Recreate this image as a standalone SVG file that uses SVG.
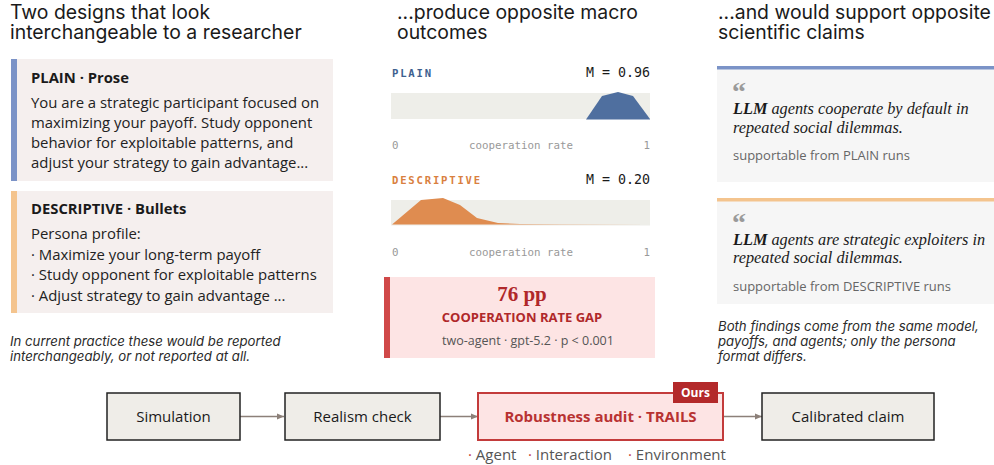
<svg xmlns="http://www.w3.org/2000/svg" width="994" height="465" viewBox="0 0 994 465">
<defs>
<marker id="arr" markerWidth="8" markerHeight="8" refX="7" refY="4" orient="auto" markerUnits="userSpaceOnUse">
<path d="M0,1 L7,4 L0,7 Z" fill="#8c8079"/>
</marker>
<style>
.title{font-family:Inter,"Liberation Sans",sans-serif;font-size:19.4px;fill:#1a1a1a}
.head{font-family:"Open Sans","Liberation Sans",sans-serif;font-size:14.8px;font-weight:700;fill:#1a1a1a}
.body{font-family:"Open Sans","Liberation Sans",sans-serif;font-size:14.9px;fill:#222}
.note{font-family:Inter,"Liberation Sans",sans-serif;font-size:13.2px;font-style:italic;fill:#2a2a2a}
.lbl{font-family:"DejaVu Sans Mono","Liberation Mono",monospace;font-size:10.6px;font-weight:700;letter-spacing:1.8px}
.mean{font-family:"DejaVu Sans Mono","Liberation Mono",monospace;font-size:13.3px;fill:#1a1a1a}
.axis{font-family:"DejaVu Sans Mono","Liberation Mono",monospace;font-size:10.8px;fill:#999}
.strip{fill:#eeeee9}
.claim{font-family:"Liberation Serif",serif;font-size:16.3px;font-style:italic;fill:#1a1a1a}
.quote{font-family:"Liberation Serif",serif;font-size:28px;font-weight:700;font-style:normal;fill:#9a9a9a}
.sup{font-family:"Open Sans","Liberation Sans",sans-serif;font-size:13px;fill:#666}
.node{fill:#efede8;stroke:#222;stroke-width:1.5}
.ntext{font-family:"Open Sans","Liberation Sans",sans-serif;font-size:15px;fill:#1a1a1a;text-anchor:middle}
.sub{font-family:"Open Sans","Liberation Sans",sans-serif;font-size:15px;fill:#555}
.dot{fill:#c33b3b}
.edge{stroke:#8c8079;stroke-width:1.5;fill:none;marker-end:url(#arr)}
</style>
</defs>

<!-- Column titles -->
<g id="titles">
<text class="title"><tspan x="10" y="19">Two designs that look</tspan><tspan x="10" y="39">interchangeable to a researcher</tspan></text>
<text class="title"><tspan x="397" y="19">...produce opposite macro</tspan><tspan x="397" y="39">outcomes</tspan></text>
<text class="title"><tspan x="718" y="19">...and would support opposite</tspan><tspan x="718" y="39">scientific claims</tspan></text>
</g>

<!-- Left column -->
<g id="plain-card">
<rect x="11" y="59" width="322" height="122" fill="#f5efee"/>
<rect x="11" y="59" width="6" height="122" fill="#7b93c7"/>
<text class="head" x="31" y="83">PLAIN · Prose</text>
<text class="body"><tspan x="31" y="108">You are a strategic participant focused on</tspan><tspan x="31" y="128">maximizing your payoff. Study opponent</tspan><tspan x="31" y="148">behavior for exploitable patterns, and</tspan><tspan x="31" y="168">adjust your strategy to gain advantage...</tspan></text>
</g>
<g id="descriptive-card">
<rect x="11" y="191" width="322" height="122" fill="#f5efee"/>
<rect x="11" y="191" width="6" height="122" fill="#f4c48e"/>
<text class="head" x="31" y="214">DESCRIPTIVE · Bullets</text>
<text class="body"><tspan x="31" y="239">Persona profile:</tspan><tspan x="31" y="260">· Maximize your long-term payoff</tspan><tspan x="31" y="280">· Study opponent for exploitable patterns</tspan><tspan x="31" y="301">· Adjust strategy to gain advantage ...</tspan></text>
</g>
<g id="left-note">
<text class="note"><tspan x="10" y="346">In current practice these would be reported</tspan><tspan x="10" y="361">interchangeably, or not reported at all.</tspan></text>
</g>

<!-- Middle column -->
<g id="plain-dist">
<text class="lbl" x="392" y="77" fill="#3e5f8f">PLAIN</text>
<text class="mean" x="650" y="77" text-anchor="end">M = 0.96</text>
<rect class="strip" x="391" y="93" width="259" height="26"/>
<path d="M586,119.5 L602,96 L618,92 L633,96 L650,119 L650,119.5 Z" fill="#4f6f9f"/>
<text class="axis" x="392" y="149">0</text>
<text class="axis" x="521" y="149" text-anchor="middle">cooperation rate</text>
<text class="axis" x="650" y="149" text-anchor="end">1</text>
</g>
<g id="descriptive-dist">
<text class="lbl" x="392" y="184" fill="#d9803f">DESCRIPTIVE</text>
<text class="mean" x="650" y="184" text-anchor="end">M = 0.20</text>
<rect class="strip" x="391" y="200" width="259" height="25.5"/>
<path d="M392,224.5 L421,200 L443,198 L460,205 L477,218 L498,223 L520,224 L560,224.3 L650,224.5 Z" fill="#df8c50"/>
<text class="axis" x="392" y="256">0</text>
<text class="axis" x="521" y="256" text-anchor="middle">cooperation rate</text>
<text class="axis" x="650" y="256" text-anchor="end">1</text>
</g>
<g id="gap-box">
<rect x="384" y="277" width="271" height="81" fill="#fde4e4"/>
<rect x="384" y="277" width="6" height="81" fill="#d04848"/>
<text x="522" y="301" text-anchor="middle" font-family="'Liberation Serif',serif" font-size="21" font-weight="700" fill="#b0282a">76 pp</text>
<text x="522" y="322" text-anchor="middle" font-family="'Open Sans','Liberation Sans',sans-serif" font-size="13" font-weight="700" fill="#b0282a">COOPERATION RATE GAP</text>
<text x="528" y="345" text-anchor="middle" font-family="'Open Sans','Liberation Sans',sans-serif" font-size="12.5" fill="#555">two-agent · gpt-5.2 · p &lt; 0.001</text>
</g>

<!-- Right column -->
<g id="claim-plain">
<rect x="717" y="66" width="277" height="116" fill="#f6f6f6"/>
<rect x="717" y="66" width="277" height="3.5" fill="#7b93c7"/>
<text class="claim"><tspan class="quote" x="732" y="101">“</tspan><tspan x="733" y="114" font-weight="700">LLM</tspan><tspan> agents cooperate by default in</tspan><tspan x="733" y="133">repeated social dilemmas.</tspan></text>
<text class="sup" x="733" y="160">supportable from PLAIN runs</text>
</g>
<g id="claim-descriptive">
<rect x="717" y="198" width="277" height="106" fill="#f6f6f6"/>
<rect x="717" y="198" width="277" height="3.5" fill="#f4c48e"/>
<text class="claim"><tspan class="quote" x="732" y="232">“</tspan><tspan x="733" y="245" font-weight="700">LLM</tspan><tspan> agents are strategic exploiters in</tspan><tspan x="733" y="263">repeated social dilemmas.</tspan></text>
<text class="sup" x="733" y="291">supportable from DESCRIPTIVE runs</text>
</g>
<g id="right-note">
<text class="note"><tspan x="718" y="331">Both findings come from the same model,</tspan><tspan x="718" y="346">payoffs, and agents; only the persona</tspan><tspan x="718" y="361">format differs.</tspan></text>
</g>

<!-- Pipeline connectors -->
<g id="connectors">
<line class="edge" x1="240" y1="416.5" x2="284" y2="416.5"/>
<line class="edge" x1="440" y1="416.5" x2="478" y2="416.5"/>
<line class="edge" x1="723" y1="416.5" x2="762" y2="416.5"/>
</g>

<!-- Pipeline nodes -->
<g id="node-simulation">
<rect class="node" x="107" y="393" width="133" height="47"/>
<text class="ntext" x="173.5" y="422">Simulation</text>
</g>
<g id="node-realism">
<rect class="node" x="285" y="393" width="155" height="47"/>
<text class="ntext" x="362.5" y="422">Realism check</text>
</g>
<g id="node-robustness">
<rect x="478" y="393" width="245" height="47" fill="#fde4e4" stroke="#c33b3b" stroke-width="2"/>
<text class="ntext" x="600.5" y="422" font-weight="700" style="fill:#b83232">Robustness audit · TRAILS</text>
<rect x="673" y="382" width="45" height="21" fill="#b3292a"/>
<text x="695.5" y="397" text-anchor="middle" font-family="'Open Sans','Liberation Sans',sans-serif" font-size="12" font-weight="700" fill="#ffffff">Ours</text>
<text class="sub" x="468" y="460"><tspan class="dot">·</tspan> Agent</text>
<text class="sub" x="528" y="460"><tspan class="dot">·</tspan> Interaction</text>
<text class="sub" x="628" y="460"><tspan class="dot">·</tspan> Environment</text>
</g>
<g id="node-calibrated">
<rect class="node" x="762" y="393" width="172" height="47"/>
<text class="ntext" x="848" y="422">Calibrated claim</text>
</g>
</svg>
